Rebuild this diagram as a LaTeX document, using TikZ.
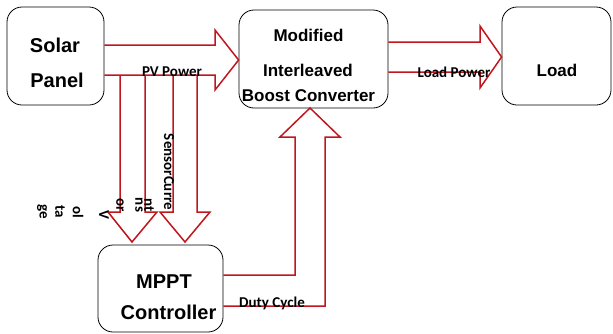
\documentclass[tikz,border=0pt]{standalone}
\usepackage{fontspec}
\setmainfont{Liberation Sans}
\newfontfamily\lblfont{Carlito}
\definecolor{arrowred}{RGB}{192,22,30}
\begin{document}
\begin{tikzpicture}[x=1pt,y=-1pt,
  box/.style={draw=black,line width=0.8pt,rounded corners=15pt,inner sep=0pt},
  bigtxt/.style={font=\fontsize{20}{24}\selectfont\bfseries,inner sep=0pt},
  midtxt/.style={font=\fontsize{17}{20}\selectfont\bfseries,inner sep=0pt},
  lbl/.style={font=\lblfont\fontsize{15}{18}\selectfont\bfseries,inner sep=0pt},
  vlbl/.style={lbl,rotate=-90},
  blockarrow/.style={draw=arrowred,line width=1.5pt,line join=miter}]
\useasboundingbox (0,0) rectangle (613,333);

% blocks
\node[box,minimum width=97pt,minimum height=98pt] (solar) at (55.5,56) {};
\node[box,minimum width=149pt,minimum height=98pt] (boost) at (313.5,59) {};
\node[box,minimum width=109pt,minimum height=98pt] (load) at (556.5,56) {};
\node[box,minimum width=125pt,minimum height=87pt] (mppt) at (160.5,288.5) {};

% solar panel -> converter
\draw[blockarrow] (solar.east |- 0,45) -- (215,45) -- (215,30) -- (boost.west |- 0,60)
  -- (215,90) -- (215,75) -- (solar.east |- 0,75);
% converter -> load
\draw[blockarrow] (boost.east |- 0,42) -- (480,42) -- (480,26) -- (load.west |- 0,57)
  -- (480,88) -- (480,72) -- (boost.east |- 0,72);
% sensed quantities down to the controller
\draw[blockarrow] (120,75) -- (120,212) -- (108,212) -- (132,242) -- (157,212) -- (145,212) -- (145,75);
\draw[blockarrow] (173,75) -- (173,212) -- (160,212) -- (185,242) -- (210,212) -- (197,212) -- (197,75);
% duty cycle from controller up to the converter
\draw[blockarrow] (mppt.east |- 0,306) -- (325,306) -- (325,137) -- (340,137) -- (310,108)
  -- (280,137) -- (295,137) -- (295,275) -- (mppt.east |- 0,275);

% block texts
\node[bigtxt] (t1) at (55,45) {Solar};
\node[bigtxt] (t2) at (57,80) {Panel};
\node[midtxt] (t3) at (308.5,35) {Modified};
\node[midtxt] (t4) at (308,70) {Interleaved};
\node[midtxt] (t5) at (308.5,96) {Boost Converter};
\node[midtxt] (t6) at (557,70) {Load};
\node[bigtxt] (t7) at (164,282) {MPPT};
\node[bigtxt] (t8) at (168.5,312) {Controller};

% connector labels
\node[lbl] (l1) at (172,72) {PV Power};
\node[lbl] (l2) at (454,72) {Load Power};
\node[lbl] (l3) at (272,303) {Duty Cycle};
\node[vlbl] (v1) at (169,172) {SensorCurre};
\node[vlbl] (v2) at (149,205) {nt};
\node[vlbl] (v3) at (139,205) {ns};
\node[vlbl] (v4) at (120,205) {or};
\node[vlbl] (v5) at (104,215) {V};
\node[vlbl] (v6) at (78,212) {ol};
\node[vlbl] (v7) at (60,212) {ta};
\node[vlbl] (v8) at (42,212) {ge};
\end{tikzpicture}
\end{document}
